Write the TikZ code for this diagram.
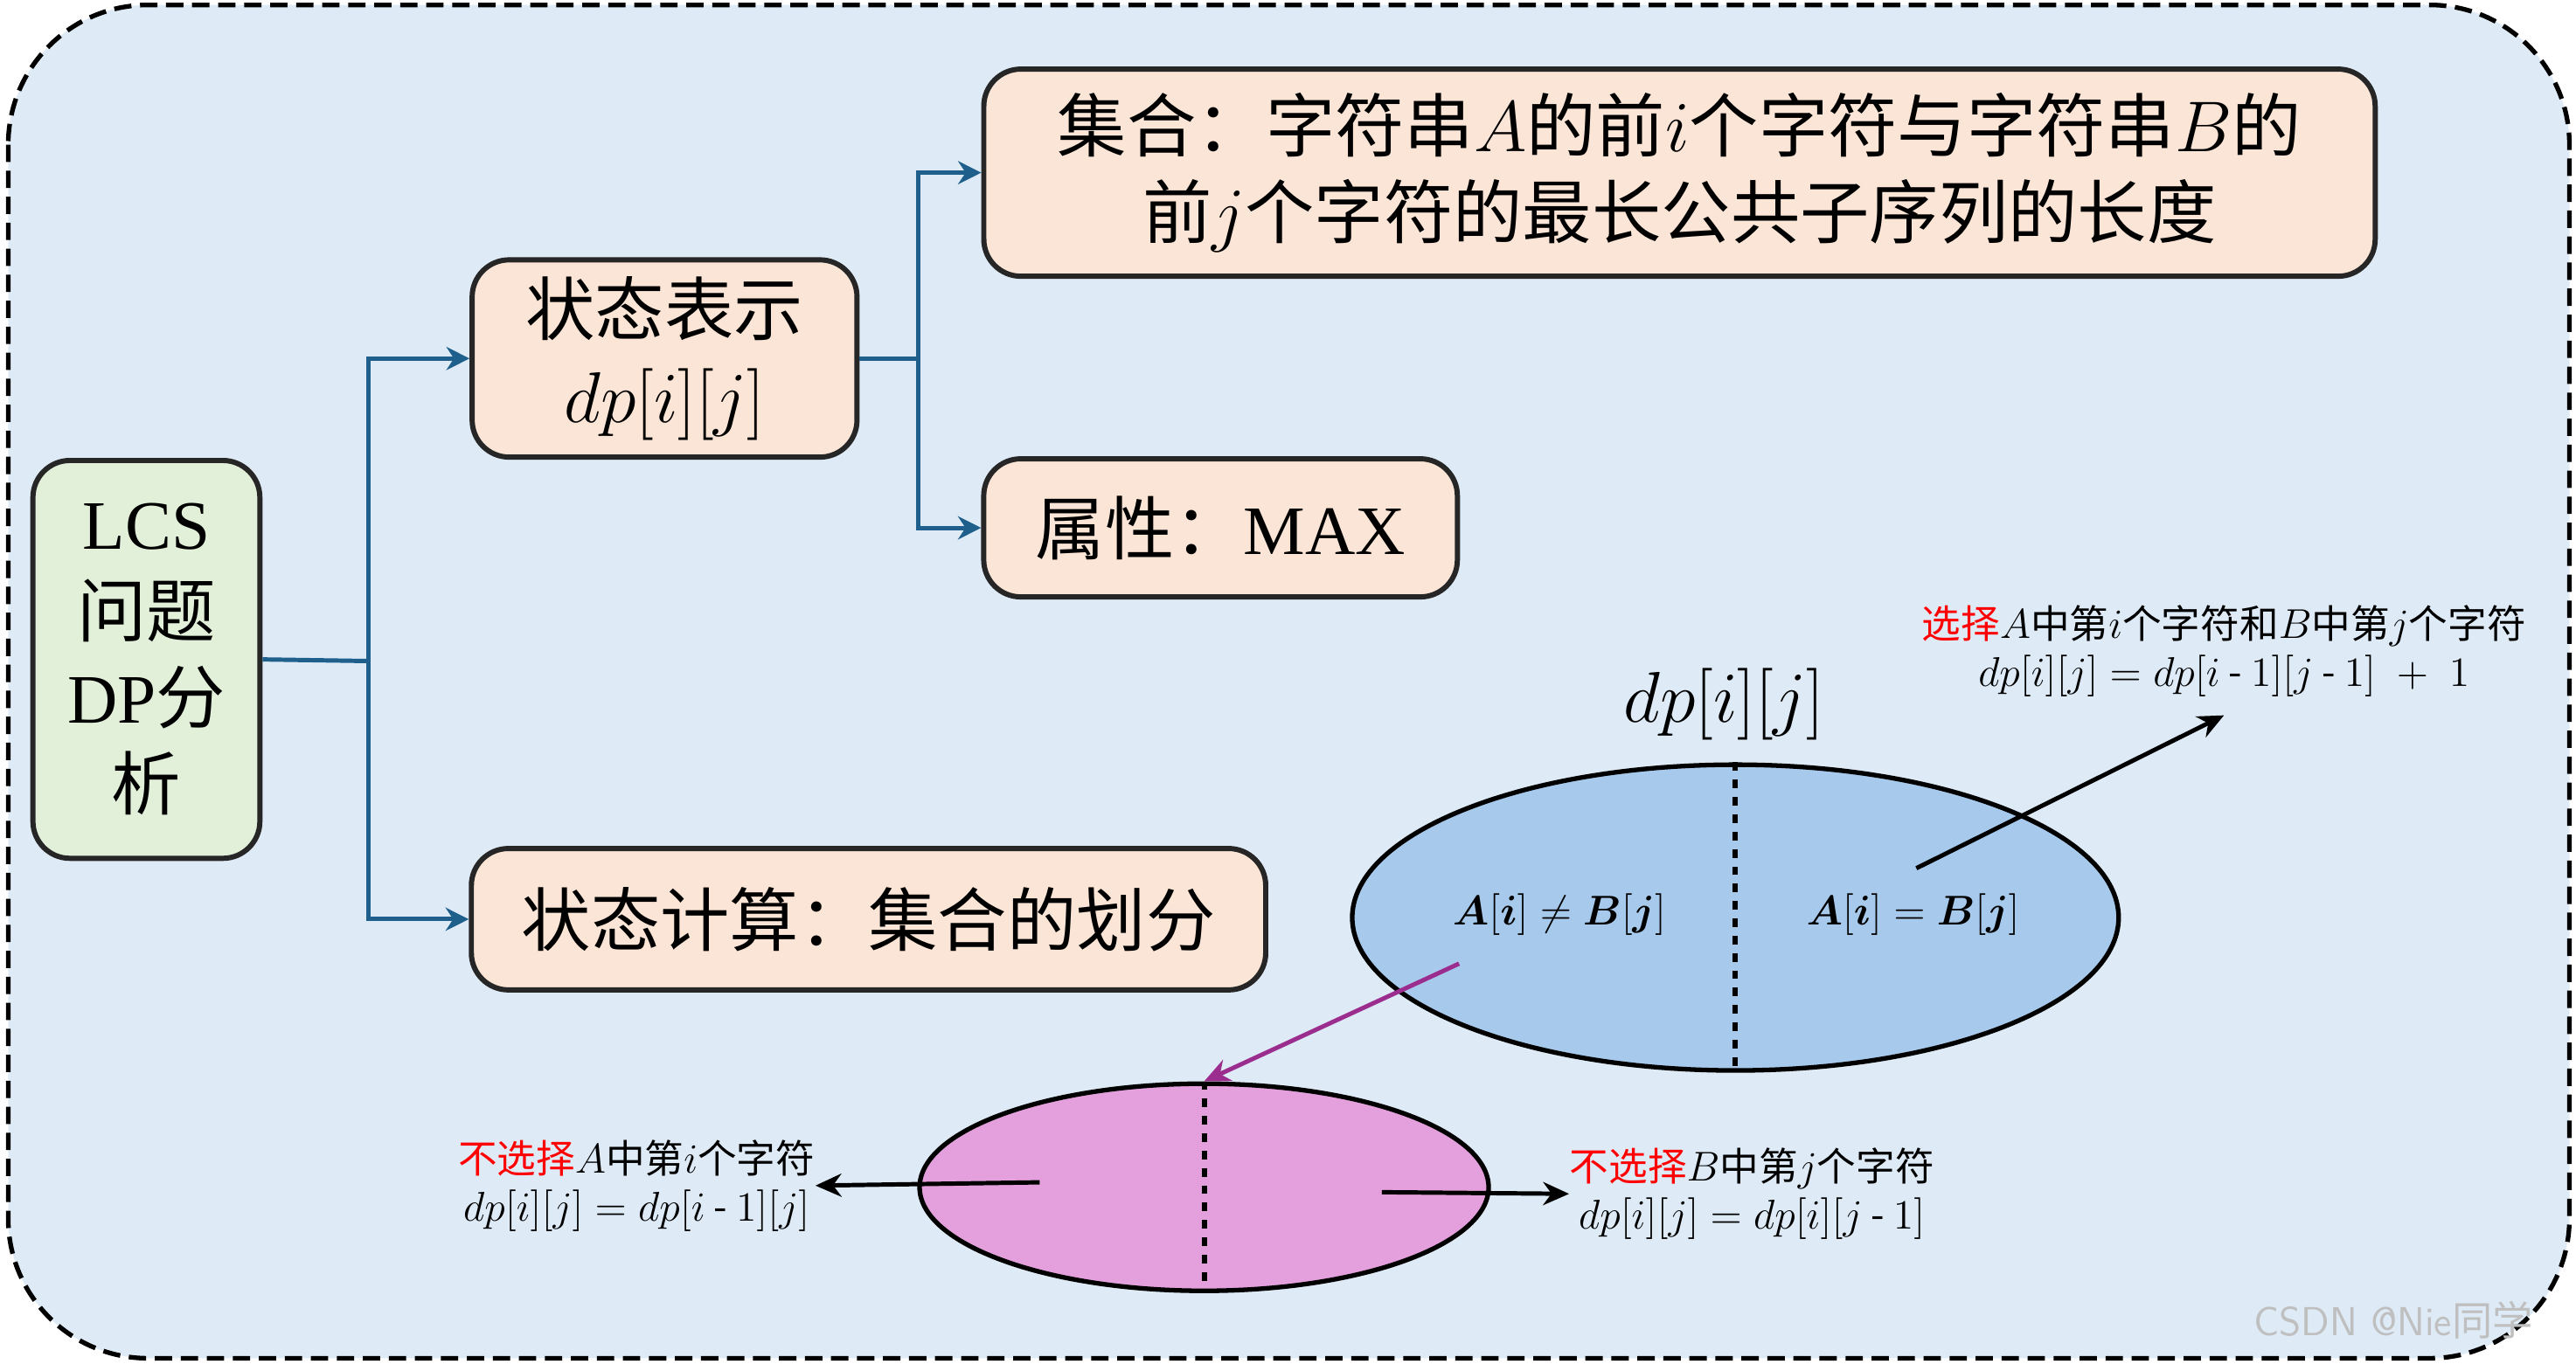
\documentclass[tikz,border=0pt]{standalone}
\usepackage{amsmath,bm}
\usepackage{fontspec}
\newfontfamily\cjk{Noto Sans CJK SC}
\newfontfamily\lat{Liberation Serif}
\usetikzlibrary{shapes.geometric,arrows.meta}
\definecolor{bgblue}{RGB}{222,235,247}
\definecolor{peach}{RGB}{251,229,214}
\definecolor{lgreen}{RGB}{226,240,217}
\definecolor{conn}{RGB}{31,95,139}
\definecolor{ellblue}{RGB}{167,201,235}
\definecolor{ellpink}{RGB}{228,160,220}
\definecolor{purp}{RGB}{155,45,143}
\tikzset{
  box/.style={draw=black!85, line width=1.8pt, rounded corners=0.45cm, fill=peach, align=center, inner sep=0pt, font=\cjk\fontsize{24}{30}\selectfont},
  conline/.style={conn, line width=1.5pt},
  conarr/.style={conn, line width=1.5pt, -{Stealth[length=8pt,width=8pt]}},
  blk/.style={black, line width=1.5pt, -{Stealth[length=9pt,width=8pt]}},
  small/.style={font=\cjk\fontsize{13.5}{16.5}\selectfont, align=center, inner sep=0pt},
  ell/.style={ellipse, draw=black, line width=1.6pt, inner sep=0pt},
}
\begin{document}
\begin{tikzpicture}[x=0.02cm,y=-0.02cm]
\useasboundingbox (0,0) rectangle (1566,829);
\draw[dash pattern=on 6pt off 3pt, line width=1.6pt, fill=bgblue, rounded corners=1.7cm] (5,3) rectangle (1562,826);
\node[box, fill=lgreen, minimum width=2.76cm, minimum height=4.84cm] (lcs) at (89,401) {{\lat LCS}\\问题\\{\lat DP}分\\析};
\node[box, minimum width=4.68cm, minimum height=2.4cm] (rep) at (404,218) {状态表示\\$dp[i][j]$};
\node[box, minimum width=16.92cm, minimum height=2.52cm] (set) at (1021,105) {集合：字符串$A$的前$i$个字符与字符串$B$的\\前$j$个字符的最长公共子序列的长度};
\node[box, minimum width=5.76cm, minimum height=1.68cm] (attr) at (742,321) {属性：{\lat MAX}};
\node[box, minimum width=9.66cm, minimum height=1.72cm] (calc) at (528,559) {状态计算：集合的划分};
\coordinate (j1) at (224,402);
\draw[conline] (lcs.east) -- (j1);
\draw[conarr] (224,402) |- (rep.west);
\draw[conarr] (224,402) |- (calc.west);
\coordinate (j2) at (558,218);
\draw[conline] (rep.east) -- (j2);
\draw[conarr] (j2) |- (set.west);
\draw[conarr] (j2) |- (attr.west);
% big ellipse
\node[ell, fill=ellblue, minimum width=9.32cm, minimum height=3.72cm] (big) at (1055,558) {};
\draw[dashed, line width=1.8pt] (big.north) -- (big.south);
\node[font=\fontsize{14}{16}\selectfont] (neq) at (948,556) {$\bm{A}[\bm{i}]\neq\bm{B}[\bm{j}]$};
\node[font=\fontsize{14}{16}\selectfont] (eq) at (1163,556) {$\bm{A}[\bm{i}]=\bm{B}[\bm{j}]$};
\node[font=\fontsize{25}{28}\selectfont] (dpt) at (1048,428) {$dp[i][j]$};
\coordinate (s1) at (1165,528);
\node[small] (sel) at (1352,396) {{\color{red}选择}$A$中第$i$个字符和$B$中第$j$个字符\\$dp[i][j]=dp[i\text{ - }1][j\text{ - }1]\;+\;1$};
\draw[blk] (s1) -- (1352,435);
% pink ellipse
\node[ell, fill=ellpink, minimum width=6.92cm, minimum height=2.52cm] (pk) at (732,722) {};
\draw[dashed, line width=1.8pt] (pk.north) -- (pk.south);
\coordinate (p0) at (887,586);
\draw[purp, line width=1.5pt, -{Stealth[length=9pt,width=8pt]}] (p0) -- (pk.north);
\node[small] (na) at (387,721) {{\color{red}不选择}$A$中第$i$个字符\\$dp[i][j]=dp[i\text{ - }1][j]$};
\node[small] (nb) at (1065,726) {{\color{red}不选择}$B$中第$j$个字符\\$dp[i][j]=dp[i][j\text{ - }1]$};
\coordinate (l0) at (632,719);
\coordinate (r0) at (840,725);
\draw[blk] (l0) -- (na.east);
\draw[blk] (r0) -- (nb.west);
\node[font=\fontsize{14}{16}\selectfont\sffamily, text=black!25] (wm) at (1455,803) {CSDN @Nie{\cjk 同学}};
\end{tikzpicture}
\end{document}
